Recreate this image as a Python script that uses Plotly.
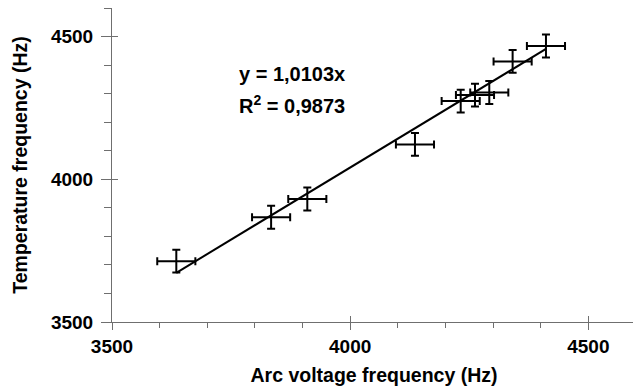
import plotly.graph_objects as go

# Data
arc_freq = [3635, 3834, 3910, 4136, 4232, 4262, 4292, 4341, 4411]
temp_freq = [3713, 3867, 3931, 4122, 4274, 4295, 4304, 4413, 4467]
arc_err = [40, 40, 40, 40, 40, 40, 40, 40, 40]
temp_err = [40, 40, 40, 40, 40, 40, 40, 40, 40]
slope = 1.0103
r2 = 0.9873
tick_vals = [3500, 4000, 4500]

FONT = "Liberation Sans, Arial, sans-serif"

x_line = [min(arc_freq), max(arc_freq)]
y_line = [slope * v for v in x_line]

fig = go.Figure()
fig.add_trace(go.Scatter(
    x=x_line, y=y_line, mode="lines",
    line=dict(color="black", width=2), showlegend=False, hoverinfo="skip"))
fig.add_trace(go.Scatter(
    x=arc_freq, y=temp_freq, mode="markers",
    marker=dict(size=1, color="black"),
    error_x=dict(type="data", array=arc_err, color="black", thickness=2, width=4),
    error_y=dict(type="data", array=temp_err, color="black", thickness=2, width=4),
    showlegend=False))
# invisible trace on overlay axes (to draw the inner half of the crossing ticks)
fig.add_trace(go.Scatter(
    x=arc_freq, y=temp_freq, mode="markers", marker=dict(opacity=0),
    xaxis="x2", yaxis="y2", showlegend=False, hoverinfo="skip"))

axis_common = dict(
    range=[3500, 4600], showgrid=False, zeroline=False, automargin=False,
    showline=True, linecolor="#6f6f6f", linewidth=1,
    tickvals=tick_vals, ticks="outside", tickcolor="#6f6f6f", tickwidth=1,
    tickfont=dict(family=FONT, size=19, color="black", weight="bold"),
)

# the page body adds an 8px offset; margins compensate for it
fig.update_layout(
    width=641, height=390,
    margin=dict(l=104, r=13, t=0, b=76),
    paper_bgcolor="white", plot_bgcolor="white",
    xaxis=dict(**axis_common, ticklen=7,
               minor=dict(dtick=100, tick0=3500, ticks="outside", ticklen=5,
                          tickcolor="#6f6f6f", tickwidth=1),
               title=dict(text="Arc voltage frequency (Hz)", standoff=12,
                          font=dict(family=FONT, size=19.5, color="black", weight="bold"))),
    yaxis=dict(**axis_common, ticklen=10, ticklabelstandoff=4,
               minor=dict(dtick=100, tick0=3500, ticks="outside", ticklen=7,
                          tickcolor="#6f6f6f", tickwidth=1),
               title=dict(text="Temperature frequency (Hz)", standoff=18,
                          font=dict(family=FONT, size=19.5, color="black", weight="bold"))),
    xaxis2=dict(range=[3500, 4600], overlaying="x", anchor="y2", side="bottom",
                showgrid=False, zeroline=False, showline=False, automargin=False,
                tickvals=tick_vals, ticks="inside", ticklen=6, tickcolor="#6f6f6f",
                showticklabels=False),
    yaxis2=dict(range=[3500, 4600], overlaying="y", anchor="x2", side="left",
                showgrid=False, zeroline=False, showline=False, automargin=False,
                tickvals=tick_vals, ticks="inside", ticklen=6, tickcolor="#6f6f6f",
                showticklabels=False),
    annotations=[
        dict(x=3763, y=4369, xref="x", yref="y", xanchor="left", yanchor="middle",
             showarrow=False, text=f"y = {str(slope).replace('.', ',')}x",
             font=dict(family=FONT, size=20, color="black", weight="bold")),
        dict(x=3763, y=4261, xref="x", yref="y", xanchor="left", yanchor="middle",
             showarrow=False, text=f"R<sup>2</sup> = {str(r2).replace('.', ',')}",
             font=dict(family=FONT, size=20, color="black", weight="bold")),
    ],
)

fig.write_html("out.html")
